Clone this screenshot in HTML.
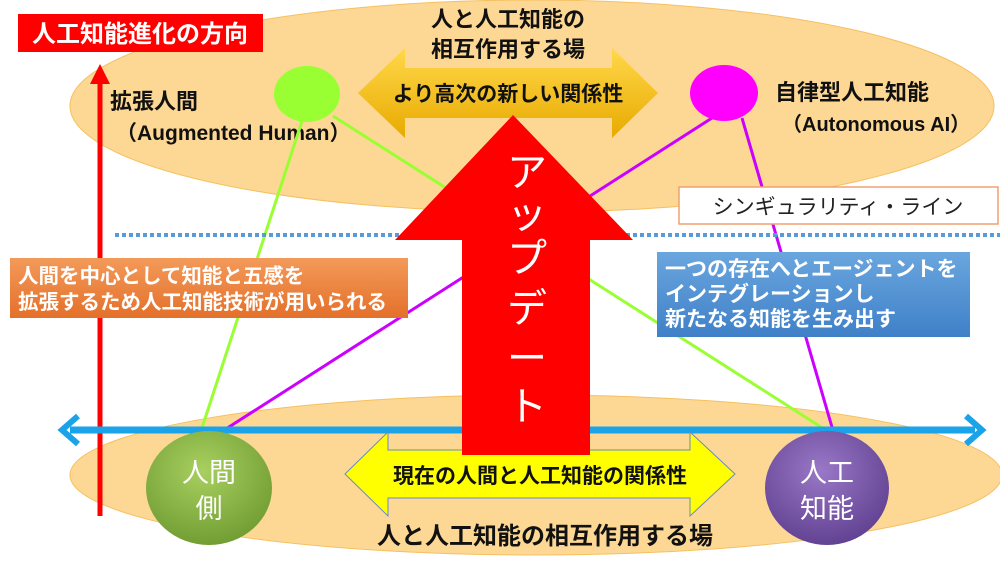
<!DOCTYPE html>
<html><head><meta charset="utf-8"><style>
body{margin:0;width:1000px;height:558px;overflow:hidden;background:#fff;font-family:"Liberation Sans","Noto Sans CJK JP",sans-serif;}
svg text{font-family:"Liberation Sans","Noto Sans CJK JP",sans-serif;}
</style></head><body>
<svg width="1000" height="558" viewBox="0 0 1000 558" xmlns="http://www.w3.org/2000/svg">
<defs>
<linearGradient id="gold" x1="0" y1="0" x2="0" y2="1"><stop offset="0" stop-color="#ffd84a"/><stop offset="1" stop-color="#e8aa00"/></linearGradient>
<radialGradient id="gr" cx="0.45" cy="0.35" r="0.7"><stop offset="0" stop-color="#a8d060"/><stop offset="1" stop-color="#6e9a30"/></radialGradient>
<radialGradient id="pu" cx="0.45" cy="0.35" r="0.7"><stop offset="0" stop-color="#9a78c8"/><stop offset="1" stop-color="#5e3e8e"/></radialGradient>
<linearGradient id="or" x1="0" y1="0" x2="0" y2="1"><stop offset="0" stop-color="#f39a5a"/><stop offset="1" stop-color="#e4702a"/></linearGradient>
<linearGradient id="bl" x1="0" y1="0" x2="0" y2="1"><stop offset="0" stop-color="#6aa6de"/><stop offset="1" stop-color="#3f80c8"/></linearGradient>
</defs>
<ellipse cx="532" cy="106" rx="462" ry="106" fill="#fdd894" stroke="#f5c060" stroke-width="1"/>
<ellipse cx="536" cy="475" rx="466" ry="80" fill="#fdd894" stroke="#f5c060" stroke-width="1"/>
<rect x="18" y="14" width="245" height="38" fill="#ff0000"/>
<text x="140" y="42" font-size="24" font-weight="bold" fill="#fff" text-anchor="middle">人工知能進化の方向</text>
<line x1="100" y1="80" x2="100" y2="516" stroke="#ff0000" stroke-width="5"/>
<polygon points="100,64 90,84 110,84" fill="#ff0000"/>
<text x="110" y="109" font-size="22" font-weight="bold" fill="#111">拡張人間</text>
<text x="116" y="140" font-size="21" font-weight="bold" fill="#111">（Augmented Human）</text>
<text x="775" y="100" font-size="22" font-weight="bold" fill="#111">自律型人工知能</text>
<text x="782" y="131" font-size="20" font-weight="bold" fill="#111">（Autonomous AI）</text>
<text x="508" y="27" font-size="22" font-weight="bold" fill="#111" text-anchor="middle">人と人工知能の</text>
<text x="508" y="57" font-size="22" font-weight="bold" fill="#111" text-anchor="middle">相互作用する場</text>
<polygon points="358,93 405,48 405,68 612,68 612,48 658,93 612,138 612,118 405,118 405,138" fill="url(#gold)"/>
<text x="508" y="101" font-size="21" font-weight="bold" fill="#111" text-anchor="middle">より高次の新しい関係性</text>
<line x1="303" y1="118" x2="200" y2="434" stroke="#99ff33" stroke-width="3"/>
<line x1="333" y1="116" x2="832" y2="434" stroke="#99ff33" stroke-width="3"/>
<line x1="712" y1="118" x2="218" y2="434" stroke="#cc00ff" stroke-width="3"/>
<line x1="742" y1="118" x2="834" y2="434" stroke="#cc00ff" stroke-width="3"/>
<ellipse cx="307" cy="94" rx="33" ry="28" fill="#99ff33"/>
<ellipse cx="724" cy="93" rx="34" ry="28" fill="#ff00ff"/>
<rect x="679" y="187" width="319" height="37" fill="#fff" stroke="#f0a070" stroke-width="1.5"/>
<text x="838" y="214" font-size="21" fill="#222" text-anchor="middle">シンギュラリティ・ライン</text>
<line x1="115" y1="235" x2="1000" y2="235" stroke="#5b9bd5" stroke-width="4" stroke-dasharray="4,3"/>
<line x1="70" y1="430" x2="975" y2="430" stroke="#1aa3e8" stroke-width="7"/>
<polyline points="78,416 62,430 78,444" fill="none" stroke="#1aa3e8" stroke-width="6"/>
<polyline points="966,416 982,430 966,444" fill="none" stroke="#1aa3e8" stroke-width="6"/>
<polygon points="345,474 388,432 388,450 690,450 690,432 735,474 690,516 690,498 388,498 388,516" fill="#ffff00" stroke="#6a8ac0" stroke-width="1"/>
<polygon points="513,115 395,240 462,240 462,455 590,455 590,240 633,240" fill="#ff0000"/>
<text x="527" y="186" font-size="40" fill="#fff" text-anchor="middle">ア</text>
<text x="527" y="228" font-size="40" fill="#fff" text-anchor="middle">ッ</text>
<text x="527" y="272" font-size="40" fill="#fff" text-anchor="middle">プ</text>
<text x="527" y="322" font-size="40" fill="#fff" text-anchor="middle">デ</text>
<text x="527" y="372" font-size="40" fill="#fff" text-anchor="middle">ー</text>
<text x="527" y="420" font-size="40" fill="#fff" text-anchor="middle">ト</text>
<text x="540" y="483" font-size="21" font-weight="bold" fill="#111" text-anchor="middle">現在の人間と人工知能の関係性</text>
<rect x="10" y="258" width="398" height="60" fill="url(#or)"/>
<text x="18" y="283" font-size="20.5" font-weight="bold" fill="#fff">人間を中心として知能と五感を</text>
<text x="18" y="309" font-size="20.5" font-weight="bold" fill="#fff">拡張するため人工知能技術が用いられる</text>
<rect x="657" y="252" width="313" height="85" fill="url(#bl)"/>
<text x="665" y="276" font-size="21" font-weight="bold" fill="#fff">一つの存在へとエージェントを</text>
<text x="665" y="301" font-size="21" font-weight="bold" fill="#fff">インテグレーションし</text>
<text x="665" y="326" font-size="21" font-weight="bold" fill="#fff">新たなる知能を生み出す</text>
<ellipse cx="209" cy="488" rx="63" ry="57" fill="url(#gr)"/>
<text x="209" y="482" font-size="27" fill="#fff" text-anchor="middle">人間</text>
<text x="209" y="518" font-size="27" fill="#fff" text-anchor="middle">側</text>
<ellipse cx="827" cy="488" rx="62" ry="57" fill="url(#pu)"/>
<text x="827" y="482" font-size="27" fill="#fff" text-anchor="middle">人工</text>
<text x="827" y="518" font-size="27" fill="#fff" text-anchor="middle">知能</text>
<text x="545" y="544" font-size="24" font-weight="bold" fill="#111" text-anchor="middle">人と人工知能の相互作用する場</text>
</svg>
</body></html>
